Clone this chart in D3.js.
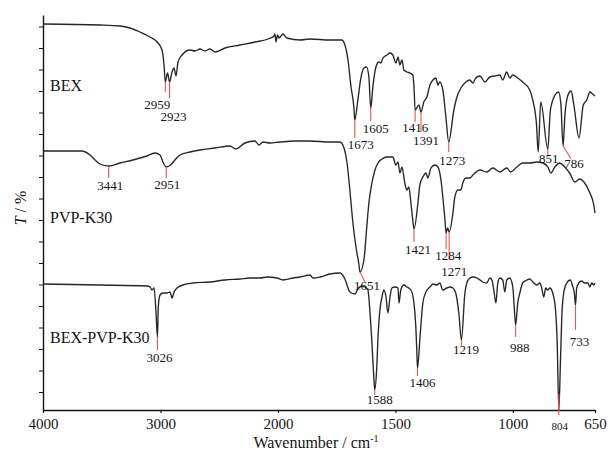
<!DOCTYPE html>
<html>
<head>
<meta charset="utf-8">
<script src="https://cdn.jsdelivr.net/npm/d3@7"></script>
<style>
  body { margin: 0; background: #fff; }
  svg text { font-family: "Liberation Serif", "Times New Roman", serif; }
</style>
</head>
<body>
<div id="chart"></div>
<script>
// ---- data: [wavenumber cm-1, transmittance (offset units)] ----
const xTicks = [4000, 3000, 2000, 1500, 1000, 650]
const seriesNames = ['BEX', 'PVP-K30', 'BEX-PVP-K30']

const bex = [
  [4000,386],[3515,385],[3345,384],[3260,382],[3175,378],[3090,373],[3021,367],[2987,360],[2970,345],
  [2959,328],[2940,337],[2923,328],[2902,338],[2885,342],[2868,334],[2851,348],[2817,355],[2749,360],
  [2706,359],[2664,361],[2621,359],[2579,361],[2536,358],[2451,362],[2323,365],[2196,368],[2085,371],
  [2034,374],[2026,376],[2017,368],[2004,375],[1996,372],[1987,374],[1979,376],[1962,372],[1906,370],
  [1864,371],[1779,370],[1729,370],[1715,365],[1702,350],[1689,323],[1677,303],[1673,290],[1660,310],
  [1647,332],[1634,342],[1623,343],[1613,333],[1605,302],[1596,323],[1583,343],[1570,348],[1562,347],
  [1553,352],[1536,355],[1523,357],[1511,355],[1498,347],[1489,353],[1481,345],[1472,350],[1464,340],
  [1451,338],[1438,337],[1426,335],[1421,324],[1416,300],[1400,305],[1391,298],[1379,308],[1366,313],
  [1353,325],[1340,330],[1328,332],[1319,325],[1311,328],[1298,320],[1285,293],[1273,268],[1251,300],
  [1238,313],[1221,322],[1200,328],[1183,330],[1170,327],[1158,332],[1140,334],[1119,328],[1098,333],
  [1077,334],[1055,335],[1043,330],[1026,338],[1013,332],[1000,335],[979,332],[958,328],[928,320],
  [915,310],[899,285],[892,258],[881,308],[851,261],[840,300],[820,315],[805,318],[795,305],[786,264],
  [778,295],[765,315],[752,319],[740,305],[718,272],[700,305],[685,310],[672,318],[660,316],[650,314]
]

const pvp = [
  [4000,259],[3671,259],[3600,255],[3557,250],[3515,246],[3441,244],[3345,247],[3234,250],[3115,254],
  [3047,257],[3004,255],[2979,248],[2951,243],[2915,245],[2877,250],[2834,255],[2749,258],[2664,260],
  [2536,262],[2409,264],[2358,261],[2281,267],[2196,269],[2162,265],[2128,268],[2068,267],[1991,268],
  [1928,269],[1864,269],[1779,268],[1736,268],[1719,262],[1706,247],[1694,220],[1681,187],[1668,163],
  [1655,145],[1651,138],[1634,150],[1623,180],[1613,207],[1600,227],[1587,240],[1574,247],[1557,251],
  [1536,253],[1511,253],[1498,245],[1489,248],[1481,237],[1472,243],[1460,227],[1451,220],[1443,223],
  [1434,207],[1426,190],[1421,181],[1404,207],[1396,225],[1383,233],[1370,237],[1362,232],[1349,242],
  [1332,245],[1319,243],[1306,230],[1298,213],[1289,190],[1284,177],[1278,182],[1271,178],[1255,197],
  [1247,213],[1234,220],[1221,220],[1213,227],[1200,232],[1183,232],[1170,235],[1140,240],[1111,238],
  [1085,242],[1055,238],[1026,242],[1009,238],[983,243],[958,247],[928,247],[898,248],[872,247],
  [851,243],[838,237],[821,243],[800,247],[779,243],[758,237],[736,228],[715,231],[694,227],[672,217],
  [655,205],[650,197]
]

const bexPvp = [
  [4000,126],[3515,125],[3115,124],[3089,123],[3072,120],[3055,122],[3038,97],[3026,73],[3019,103],
  [3004,115],[2979,117],[2945,117],[2919,118],[2902,112],[2885,118],[2860,122],[2809,125],[2723,127],
  [2579,128],[2451,130],[2323,131],[2238,132],[2153,132],[2094,133],[2009,132],[1979,130],[1936,132],
  [1906,133],[1864,135],[1851,132],[1821,133],[1779,136],[1736,137],[1715,131],[1694,118],[1672,116],
  [1660,121],[1643,124],[1630,123],[1617,120],[1609,100],[1600,67],[1592,33],[1588,20],[1580,40],
  [1574,73],[1566,100],[1557,113],[1549,120],[1540,113],[1532,97],[1523,113],[1515,122],[1502,123],
  [1489,122],[1485,107],[1477,120],[1464,125],[1451,123],[1434,120],[1421,107],[1413,83],[1409,60],
  [1406,42],[1394,77],[1383,107],[1370,118],[1353,123],[1340,126],[1323,125],[1311,127],[1298,120],
  [1281,122],[1268,123],[1255,122],[1243,117],[1230,97],[1219,70],[1204,117],[1196,127],[1183,132],
  [1170,133],[1153,132],[1140,130],[1128,128],[1111,127],[1098,132],[1089,130],[1081,120],[1072,107],
  [1064,127],[1055,132],[1043,130],[1034,118],[1026,130],[1013,132],[1000,123],[994,103],[988,85],
  [979,107],[970,117],[958,127],[940,130],[928,131],[915,128],[898,125],[885,127],[877,122],[868,113],
  [860,122],[851,120],[843,122],[830,117],[818,100],[811,67],[804,0],[797,50],[790,100],[781,120],
  [768,128],[755,130],[747,125],[738,117],[733,105],[728,122],[719,127],[707,129],[694,127],[681,127],
  [672,123],[664,127],[655,125],[650,127]
]

// marked peaks of each spectrum
const bexPeaks = [2959, 2923, 1673, 1605, 1416, 1391, 1273, 851, 786]
const pvpPeaks = [3441, 2951, 1651, 1421, 1284, 1271]
const bexPvpPeaks = [3026, 1588, 1406, 1219, 988, 733, 804]

// ---- layout ----
const width = 610, height = 461
const red = '#e4574f'
const ink = '#141414'

// label placement per peak: text dx, leader start/end dy, text baseline dy, leader end dx
const peakLayout = {
  2959: {dx: -8, l0: 0, l1: 10, ty: 27},
  2923: {dx: 4, l0: 0, l1: 16, ty: 39},
  1673: {dx: 6, l0: 0, l1: 18, ty: 29},
  1605: {dx: 5, l0: 0, l1: 13, ty: 25},
  1416: {dx: 0, l0: 0, l1: 12, ty: 22},
  1391: {dx: 5, l0: 0, l1: 20, ty: 33},
  1273: {dx: 3.5, l0: 0, l1: 10, ty: 23},
  851: {dx: 1, l0: 0, l1: 7, ty: 14},
  786: {dx: 11, l0: 0, l1: 13, ty: 22, ldx: 8},
  3441: {dx: 1.5, l0: 0, l1: 12, ty: 24},
  2951: {dx: 1, l0: 0, l1: 11, ty: 22},
  1651: {dx: 7, l0: 0, l1: 10, ty: 18, ldx: 5},
  1421: {dx: 4, l0: 0, l1: 13, ty: 25},
  1284: {dx: 2, l0: 0, l1: 16, ty: 27},
  1271: {dx: 5, l0: 0, l1: 28, ty: 44},
  3026: {dx: 2, l0: 0, l1: 13, ty: 25},
  1588: {dx: 5, l0: 0, l1: 5, ty: 14},
  1406: {dx: 5, l0: 0, l1: 8, ty: 19},
  1219: {dx: 4.5, l0: 0, l1: 6, ty: 14},
  988: {dx: 4, l0: 0, l1: 12, ty: 27},
  733: {dx: 4, l0: 0, l1: 25, ty: 41},
  804: {dx: 1, l0: -16, l1: 5, ty: 20, small: true}
}

const svg = d3.select('#chart').append('svg')
  .attr('width', width)
  .attr('height', height)
  .style('background', '#fff')

// broken wavenumber axis: 4000-2000 at half the scale of 2000-650
const x = d3.scaleLinear().domain([4000, 2000, 650]).range([43, 278, 595])
const y = d3.scaleLinear().domain([0, 395]).range([410, 15])

// x axis
const xAxis = svg.append('g')
  .attr('transform', 'translate(0,410)')
  .call(d3.axisBottom(x).tickValues(xTicks).tickSize(3).tickSizeOuter(0).tickPadding(5).tickFormat(d3.format('d')))
xAxis.select('.domain').attr('stroke', ink).attr('stroke-width', 1.4)
xAxis.selectAll('.tick line').attr('stroke', ink).attr('stroke-width', 1.2)
xAxis.selectAll('.tick text')
  .attr('font-size', 15)
  .attr('fill', ink)
  .style('font-family', '"Liberation Serif", "Times New Roman", serif')

// y axis, unlabeled ticks
const yAxis = svg.append('g')
  .attr('transform', 'translate(43,0)')
  .call(d3.axisLeft(y).tickValues(d3.range(18, 384, 21.5)).tickSize(4).tickSizeOuter(0).tickFormat(''))
yAxis.select('.domain').attr('stroke', ink).attr('stroke-width', 1.4)
yAxis.selectAll('.tick line').attr('stroke', ink).attr('stroke-width', 1)

// spectra
const line = d3.line()
  .x(d => x(d[0]))
  .y(d => y(d[1]))
  .curve(d3.curveMonotoneX)

const spectra = [
  {name: seriesNames[0], data: bex, peaks: bexPeaks, labelY: 91},
  {name: seriesNames[1], data: pvp, peaks: pvpPeaks, labelY: 223},
  {name: seriesNames[2], data: bexPvp, peaks: bexPvpPeaks, labelY: 343}
]

svg.append('g')
  .selectAll('path')
  .data(spectra)
  .enter().append('path')
    .attr('d', d => line(d.data))
    .attr('fill', 'none')
    .attr('stroke', '#262626')
    .attr('stroke-width', 1.35)
    .attr('stroke-linejoin', 'round')

// series names
svg.append('g')
  .selectAll('text')
  .data(spectra)
  .enter().append('text')
    .attr('x', 50)
    .attr('y', d => d.labelY)
    .attr('font-size', 16)
    .attr('fill', ink)
    .text(d => d.name)

// peak markers
const valueAt = (data, wn) => {
  const hit = data.find(p => p[0] === wn)
  if (hit) return hit[1]
  const i = data.findIndex(p => p[0] < wn)
  const a = data[i - 1], b = data[i]
  return a[1] + (b[1] - a[1]) * (a[0] - wn) / (a[0] - b[0])
}

const marks = []
spectra.forEach(s => {
  s.peaks.forEach(wn => {
    const lay = peakLayout[wn]
    marks.push({wn: wn, px: x(wn), py: y(valueAt(s.data, wn)), lay: lay})
  })
})

const markG = svg.append('g')
markG.selectAll('line')
  .data(marks)
  .enter().append('line')
    .attr('x1', d => d.px)
    .attr('y1', d => d.py + d.lay.l0)
    .attr('x2', d => d.px + (d.lay.ldx || 0))
    .attr('y2', d => d.py + d.lay.l1)
    .attr('stroke', red)
    .attr('stroke-width', 1.1)

markG.selectAll('text')
  .data(marks)
  .enter().append('text')
    .attr('x', d => d.px + d.lay.dx)
    .attr('y', d => d.py + d.lay.ty)
    .attr('text-anchor', 'middle')
    .attr('font-size', d => d.lay.small ? 11 : 13)
    .attr('fill', ink)
    .text(d => d.wn)

// axis titles
const xt = svg.append('text')
  .attr('x', 316)
  .attr('y', 448)
  .attr('text-anchor', 'middle')
  .attr('font-size', 16)
  .attr('fill', ink)
xt.append('tspan').text('Wavenumber / cm')
xt.append('tspan').attr('font-size', 10).attr('dy', -6).text('-1')

const yt = svg.append('text')
  .attr('transform', 'translate(26,208) rotate(-90)')
  .attr('text-anchor', 'middle')
  .attr('font-size', 16)
  .attr('fill', ink)
yt.append('tspan').attr('font-style', 'italic').text('T')
yt.append('tspan').text(' / %')
</script>
</body>
</html>
